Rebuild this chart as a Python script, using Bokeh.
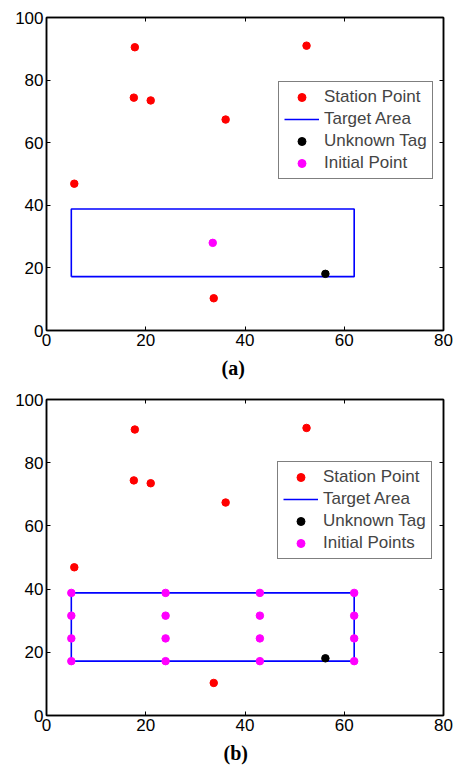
from bokeh.plotting import figure
from bokeh.layouts import column
from bokeh.models import Range1d, LinearAxis, FixedTicker, Legend, LegendItem, Title
from bokeh.embed import file_html
from bokeh.resources import INLINE

# Station (anchor) positions
station_x = [17.8, 52.4, 17.6, 21.0, 36.1, 5.6, 33.7]
station_y = [90.5, 91.0, 74.4, 73.5, 67.4, 46.9, 10.3]

# Target area bounds
area_x = [5.0, 62.0]
area_y = [17.2, 38.8]

# Unknown tag
tag_x = [56.2]
tag_y = [18.1]

# Single initial point (a): centre of the target area
init_a_x = [33.5]
init_a_y = [28.0]

# Grid of initial points (b)
grid_x = [5.0, 24.0, 43.0, 62.0]
grid_y = [17.2, 24.4, 31.6, 38.8]

x_ticks = [0, 20, 40, 60, 80]
y_ticks = [0, 20, 40, 60, 80, 100]

FONT = "Liberation Sans"


def make_panel(tag, init_x, init_y, init_label, height, borders, legend_loc, title_offset):
    left, right, top, bottom = borders
    p = figure(width=455, height=height, output_backend="svg", toolbar_location=None,
               x_range=Range1d(0, 80), y_range=Range1d(0, 100),
               min_border_left=left, min_border_right=right,
               min_border_top=top, min_border_bottom=bottom,
               background_fill_color="white", border_fill_color="white")
    p.xgrid.visible = False
    p.ygrid.visible = False
    p.outline_line_color = "black"
    p.outline_line_width = 1.5

    for ax, ticks in ((p.xaxis[0], x_ticks), (p.yaxis[0], y_ticks)):
        ax.ticker = FixedTicker(ticks=ticks)
        ax.major_tick_in = 4
        ax.major_tick_out = 0
        ax.minor_tick_line_color = None
        ax.axis_line_color = "black"
        ax.axis_line_width = 1.5
        ax.major_tick_line_color = "black"
        ax.major_label_text_font = FONT
        ax.major_label_text_font_size = "17px"
        ax.major_label_text_color = "black"
        ax.major_label_standoff = 3

    # mirrored ticks on top and right edges
    for ticks, place in ((x_ticks, "above"), (y_ticks, "right")):
        ax = LinearAxis(ticker=FixedTicker(ticks=ticks))
        ax.major_tick_in = 4
        ax.major_tick_out = 0
        ax.minor_tick_line_color = None
        ax.axis_line_color = "black"
        ax.axis_line_width = 1.5
        ax.major_tick_line_color = "black"
        ax.major_label_text_font_size = "0px"
        ax.major_label_text_color = None
        ax.major_label_standoff = 0
        p.add_layout(ax, place)

    r_station = p.scatter(station_x, station_y, size=7.5, color="#ff0000", marker="circle")

    rx = [area_x[0], area_x[1], area_x[1], area_x[0], area_x[0]]
    ry = [area_y[0], area_y[0], area_y[1], area_y[1], area_y[0]]
    r_area = p.line(rx, ry, line_color="#0000ff", line_width=1.6)

    r_tag = p.scatter(tag_x, tag_y, size=7.5, color="black", marker="circle")
    r_init = p.scatter(init_x, init_y, size=7.5, color="#ff00ff", marker="circle")

    legend = Legend(items=[
        LegendItem(label="Station Point", renderers=[r_station]),
        LegendItem(label="Target Area", renderers=[r_area]),
        LegendItem(label="Unknown Tag", renderers=[r_tag]),
        LegendItem(label=init_label, renderers=[r_init]),
    ], location=legend_loc)
    legend.margin = 0
    legend.padding = 5
    legend.spacing = 2
    legend.label_height = 20
    legend.glyph_height = 20
    legend.glyph_width = 35
    legend.label_standoff = 5
    legend.label_text_font = FONT
    legend.label_text_font_size = "17px"
    legend.border_line_color = "black"
    legend.border_line_width = 1.5
    legend.background_fill_color = "white"
    legend.background_fill_alpha = 1.0
    p.add_layout(legend, "center")

    cap = Title(text=tag, align="left", offset=title_offset,
                text_font="Liberation Serif", text_font_style="bold",
                text_font_size="20px", text_color="black", standoff=13)
    p.add_layout(cap, "below")
    return p


mesh_x = [gx for gx in grid_x for _ in grid_y]
mesh_y = [gy for _ in grid_x for gy in grid_y]

p1 = make_panel("(a)", init_a_x, init_a_y, "Initial Point", 385,
                (46, 12, 17, 55), (232, 151), 175)
p2 = make_panel("(b)", mesh_x, mesh_y, "Initial Points", 386,
                (44, 10, 14, 56), (231, 156), 177)

layout = column(p1, p2, spacing=0)
open("out.html", "w").write(file_html(layout, INLINE))
